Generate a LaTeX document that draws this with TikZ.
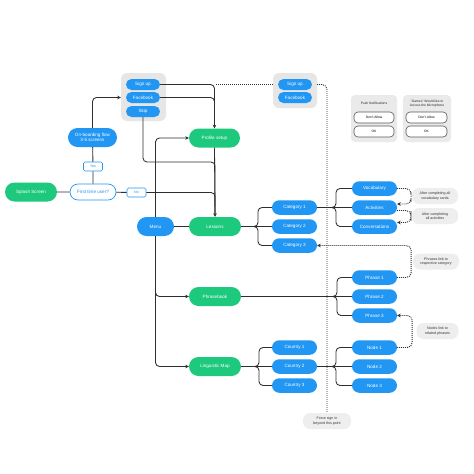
\documentclass[tikz,border=0pt]{standalone}
\usepackage{fontspec}
\setmainfont{Liberation Sans}
\usetikzlibrary{shapes.misc,arrows.meta,calc}
\definecolor{pblue}{HTML}{2196F3}
\definecolor{pgreen}{HTML}{1DC97D}
\definecolor{lgrey}{HTML}{E6E6E6}
\definecolor{ngrey}{HTML}{EEEEEE}
\definecolor{lnc}{HTML}{2E2E2E}
\begin{document}
\begin{tikzpicture}[x=1pt,y=-1pt,
 pill/.style={rounded rectangle, inner sep=0pt, text=white, font=\fontsize{4.6}{5.4}\selectfont, align=center},
 bp/.style={pill, fill=pblue, minimum width=45pt, minimum height=14.5pt},
 gp/.style={pill, fill=pgreen, minimum width=52pt, minimum height=19pt},
 sp/.style={pill, fill=pblue, minimum width=34pt, minimum height=11pt},
 op/.style={pill, draw=pblue, fill=white, text=pblue, line width=0.7pt},
 tag/.style={rectangle, rounded corners=1.5pt, draw=pblue, fill=white, text=pblue, line width=0.6pt, minimum width=19pt, minimum height=9pt, inner sep=0pt, font=\fontsize{3.6}{4}\selectfont},
 note/.style={rectangle, rounded corners=7pt, fill=ngrey, text=black!80, font=\fontsize{3.6}{4.3}\selectfont, align=center, minimum width=46pt, minimum height=16pt, inner sep=0pt},
 grp/.style={rectangle, rounded corners=6pt, fill=lgrey, inner sep=0pt},
 dlg/.style={rectangle, rounded corners=4pt, fill=lgrey!85, inner sep=0pt},
 btn/.style={rectangle, rounded corners=4pt, draw=black!65, fill=white, line width=0.6pt, minimum width=40pt, minimum height=11pt, inner sep=0pt, font=\fontsize{3.3}{4}\selectfont},
 dtxt/.style={font=\fontsize{3.3}{4}\selectfont, align=center, inner sep=0pt, text=black!85},
 ln/.style={draw=lnc, line width=0.85pt, rounded corners=4pt},
 arr/.style={ln, -{Stealth[length=3.5pt,width=3.5pt]}},
 dl/.style={draw=lnc, line width=0.95pt, dash pattern=on 0.95pt off 1.05pt, rounded corners=5pt},
 darr/.style={dl, -{Stealth[length=3.5pt,width=3.5pt]}},
]
\fill[white] (0,0) rectangle (474,474);
\useasboundingbox (0,0) rectangle (474,474);

% groups and dialogs
\node[grp, minimum width=45pt, minimum height=48pt] (lgrp) at (143.5,97) {};
\node[grp, minimum width=44pt, minimum height=35pt] (rgrp) at (295,90.5) {};
\node[dlg, minimum width=46pt, minimum height=47pt] (dlg1) at (374,118.5) {};
\node[dlg, minimum width=48pt, minimum height=47pt] (dlg2) at (427,118.5) {};
\node[dtxt] (d1t) at (374,103.5) {Push Notifications};
\node[dtxt] (d2t) at (427,104) {“Games” Would like to\\Access the Microphone};
\node[btn] (d1a) at (374,117.5) {Don't Allow};
\node[btn] (d1b) at (374,131.5) {OK};
\node[btn, minimum width=41pt] (d2a) at (426.5,117.5) {Don't Allow};
\node[btn, minimum width=41pt] (d2b) at (426.5,131.5) {OK};

% nodes
\node[gp] (splash) at (31,192) {Splash Screen};
\node[op, minimum width=46pt, minimum height=16pt] (ftu) at (93,192) {First time user?};
\node[tag] (yes) at (93,166.5) {Yes};
\node[tag] (no) at (136.5,192.5) {No};
\node[bp, minimum width=49pt, minimum height=19pt] (onb) at (92.5,137.5) {On-boarding flow\\3-5 screens};
\node[sp] (su) at (143,84.5) {Sign up};
\node[sp] (fb) at (143,97.5) {Facebook};
\node[sp] (skip) at (143,111.5) {Skip};
\node[sp] (rsu) at (295,84.5) {Sign up};
\node[sp] (rfb) at (295,97.5) {Facebook};
\node[gp, minimum width=51pt] (prof) at (214.5,138) {Profile setup};
\node[bp, minimum width=37pt, minimum height=19pt] (menu) at (155.5,226.5) {Menu};
\node[gp] (less) at (215,226.5) {Lessons};
\node[gp] (phr) at (215,296.5) {Phrasebook};
\node[gp] (map) at (215,366.5) {Linguistic Map};
\node[bp] (cat1) at (294.5,207.5) {Category 1};
\node[bp] (cat2) at (294.5,226.5) {Category 2};
\node[bp] (cat3) at (294.5,245.5) {Category 3};
\node[bp] (voc) at (374.5,188.5) {Vocabulary};
\node[bp] (act) at (374.5,207.5) {Activities};
\node[bp] (conv) at (374.5,226.5) {Conversations};
\node[bp] (ph1) at (374.5,277.5) {Phrase 1};
\node[bp] (ph2) at (374.5,296.5) {Phrase 2};
\node[bp] (ph3) at (374.5,315.5) {Phrase 3};
\node[bp] (co1) at (294.5,347.5) {Country 1};
\node[bp] (co2) at (294.5,366.5) {Country 2};
\node[bp] (co3) at (294.5,385.5) {Country 3};
\node[bp] (nd1) at (374.5,347.5) {Node 1};
\node[bp] (nd2) at (374.5,366.5) {Node 2};
\node[bp] (nd3) at (374.5,385.5) {Node 3};

\node[note] (n1) at (435,196) {After completing all\\vocabulary cards};
\node[note] (n2) at (435,216) {After completing\\all activities};
\node[note] (n3) at (436,261.5) {Phrases link to\\respective category};
\node[note, minimum width=42pt] (n4) at (437.5,331) {Nodes link to\\related phrases};
\node[note, minimum width=48pt] (force) at (327,421) {Force sign in\\beyond this point};

% coordinates
\coordinate (sk) at (143,162);
\coordinate (dj) at (216,84.5);
\coordinate (bl) at (254,226.5);
\coordinate (bc) at (332,207.5);
\coordinate (bp) at (333,296.5);
\coordinate (bm) at (255,366.5);
\coordinate (bn) at (332,366.5);

% solid connectors
\draw[ln] (splash) -- (ftu);
\draw[ln] (ftu) -- (yes);
\draw[ln] (yes) -- (onb);
\draw[arr] (onb.north) |- (lgrp.west |- fb);
\draw[ln] (ftu) -- (no);
\draw[ln, shorten >=3pt] (no.east) -| (less.north);
\draw[arr] (su.east) -| (prof.north);
\draw[ln, shorten >=3pt] (fb.east) -| (prof.north);
\draw[ln, shorten >=3pt] (skip.south) -- (sk) -| (less.north);
\draw[arr] (prof.south) -- (less.north);
\draw[arr] (menu.north) |- (prof.west);
\draw[arr] (menu.south) |- (phr.west);
\draw[arr] (menu.south) |- (map.west);
\draw[ln] (menu) -- (less);

\draw[ln] (less.east) -- (cat2.west);
\draw[ln] (bl) -- ++(4,0) |- (cat1.west);
\draw[ln] (bl) -- ++(4,0) |- (cat3.west);
\draw[ln] (cat1.east) -- (act.west);
\draw[ln] (bc) -- ++(4,0) |- (voc.west);
\draw[ln] (bc) -- ++(4,0) |- (conv.west);
\draw[ln] (phr.east) -- (ph2.west);
\draw[ln] (bp) -- ++(4,0) |- (ph1.west);
\draw[ln] (bp) -- ++(4,0) |- (ph3.west);
\draw[ln] (map.east) -- (co2.west);
\draw[ln] (bm) -- ++(4,0) |- (co1.west);
\draw[ln] (bm) -- ++(4,0) |- (co3.west);
\draw[ln] (co2.east) -- (nd2.west);
\draw[ln] (bn) -- ++(4,0) |- (nd1.west);
\draw[ln] (bn) -- ++(4,0) |- (nd3.west);

% dotted connectors
\draw[dl] (dj) -- (rgrp.west |- rsu);
\draw[dl] (rgrp.east |- rsu) -| (force.north);
\draw[darr] (voc.east) -| (411,197) |- ([yshift=3.5pt]act.east);
\draw[darr] ([yshift=-3pt]act.east) -| (411,216) |- ([yshift=4pt]conv.east);
\draw[darr] (ph1.east) -- ++(14,0) |- (cat3.east);
\draw[darr] (nd1.east) -- ++(15,0) |- (ph3.east);
\end{tikzpicture}
\end{document}
